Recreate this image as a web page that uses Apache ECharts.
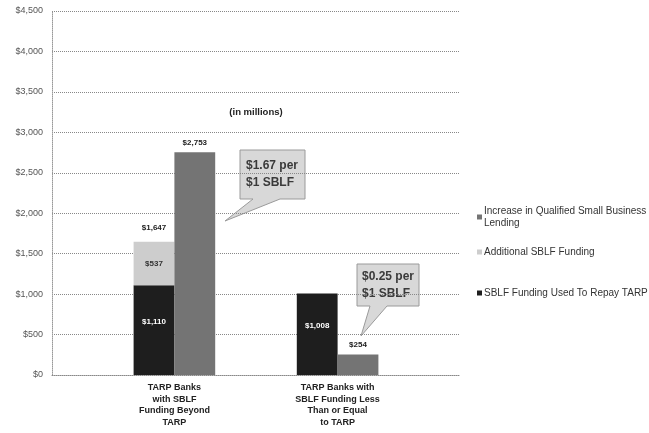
<!DOCTYPE html>
<html>
<head>
<meta charset="utf-8">
<script src="https://cdn.jsdelivr.net/npm/echarts@6/dist/echarts.min.js"></script>
<style>html,body{margin:0;padding:0;background:#fff}#c{width:649px;height:433px}</style>
</head>
<body>
<div id="c"></div>
<script>
const categories = ['TARP Banks\nwith SBLF\nFunding Beyond\nTARP', 'TARP Banks with\nSBLF Funding Less\nThan or Equal\nto TARP'];
const repayTarp = [1110, 1008];
const additionalSblf = [537, null];
const increaseLending = [2753, 254];
const yTicks = [0, 500, 1000, 1500, 2000, 2500, 3000, 3500, 4000, 4500];
const seriesNames = ['SBLF Funding Used To Repay TARP', 'Additional SBLF Funding', 'Increase in Qualified Small Business\nLending'];
const callouts = ['$1.67 per\n$1 SBLF', '$0.25 per\n$1 SBLF'];

const FONT = 'Arial, "Liberation Sans", sans-serif';
// padded category axis: blank slots around the two groups
function pad(arr) { return ['-', arr[0] == null ? '-' : arr[0], '-', arr[1] == null ? '-' : arr[1], '-']; }
const cats = ['', categories[0], '', categories[1], ''];
const totals = repayTarp.map((v, i) => v + (additionalSblf[i] || 0));
const totalHelper = ['-', 0, '-', '-', '-'];
const money = v => '$' + Number(v).toLocaleString('en-US');

const chart = echarts.init(document.getElementById('c'), null, {renderer: 'canvas'});
const legendBase = {
  orient: 'vertical', left: 472, icon: 'rect', itemWidth: 5, itemHeight: 5, itemGap: 0,
  textStyle: {fontFamily: FONT, fontSize: 10, color: '#333', lineHeight: 12, padding: [0, 0, 0, -3]},
  selectedMode: false
};
chart.setOption({
  animation: false,
  textStyle: {fontFamily: FONT},
  grid: {left: 52, right: 189, top: 11, bottom: 58},
  legend: [
    Object.assign({}, legendBase, {top: 200, data: [seriesNames[2]]}),
    Object.assign({}, legendBase, {top: 241, data: [seriesNames[1]]}),
    Object.assign({}, legendBase, {top: 282, data: [seriesNames[0]]})
  ],
  xAxis: {
    type: 'category', data: cats,
    axisLine: {lineStyle: {color: '#888', type: 'dotted'}},
    axisTick: {show: false},
    axisLabel: {interval: 0, margin: 7, fontFamily: FONT, fontSize: 9, fontWeight: 'bold', color: '#222', lineHeight: 11.5}
  },
  yAxis: {
    type: 'value', min: yTicks[0], max: yTicks[yTicks.length - 1], interval: 500,
    axisLine: {show: true, lineStyle: {color: '#999', type: 'dotted'}},
    axisTick: {show: false},
    splitLine: {lineStyle: {color: '#888', type: 'dotted'}},
    axisLabel: {margin: 9, fontFamily: FONT, fontSize: 9, color: '#555', formatter: money}
  },
  series: [
    {
      name: seriesNames[0], type: 'bar', stack: 'a', data: pad(repayTarp),
      barGap: '0%', barCategoryGap: '0%',
      itemStyle: {color: '#1e1e1e'},
      label: {show: true, position: 'inside', offset: [0, -8], color: '#fff', fontSize: 8, fontWeight: 'bold', formatter: p => money(p.value)}
    },
    {
      name: seriesNames[1], type: 'bar', stack: 'a', data: pad(additionalSblf),
      itemStyle: {color: '#cdcdcd'},
      label: {show: true, position: 'inside', color: '#333', fontSize: 8, fontWeight: 'bold', formatter: p => money(p.value)}
    },
    {
      name: 'total', type: 'bar', stack: 'a', data: totalHelper,
      itemStyle: {color: 'transparent'},
      label: {show: true, position: 'top', distance: 10, color: '#222', fontSize: 8, fontWeight: 'bold', formatter: p => money(totals[(p.dataIndex - 1) / 2])}
    },
    {
      name: seriesNames[2], type: 'bar', stack: 'b', data: pad(increaseLending),
      itemStyle: {color: '#747474'},
      label: {show: true, position: 'top', distance: 6, color: '#222', fontSize: 8, fontWeight: 'bold', formatter: p => money(p.value)}
    }
  ],
  graphic: [
    {type: 'text', x: 256, y: 112, style: {text: '(in millions)', font: 'bold 9.5px ' + FONT, fill: '#222', textAlign: 'center', textVerticalAlign: 'middle'}},
    {type: 'polygon', shape: {points: [[240,150],[305,150],[305,199],[280,199],[225,221],[253,199],[240,199]]},
      style: {fill: '#d8d8d8', stroke: '#9a9a9a', lineWidth: 1}},
    {type: 'text', x: 246, y: 174.5, style: {text: callouts[0], font: 'bold 12px ' + FONT, fill: '#3a3a3a', lineHeight: 17, textAlign: 'left', textVerticalAlign: 'middle'}},
    {type: 'polygon', shape: {points: [[357,264],[419,264],[419,306],[387,306],[361,336],[370,306],[357,306]]},
      style: {fill: '#d8d8d8', stroke: '#9a9a9a', lineWidth: 1}},
    {type: 'text', x: 362, y: 285, style: {text: callouts[1], font: 'bold 12px ' + FONT, fill: '#3a3a3a', lineHeight: 17, textAlign: 'left', textVerticalAlign: 'middle'}}
  ]
});
</script>
</body>
</html>
